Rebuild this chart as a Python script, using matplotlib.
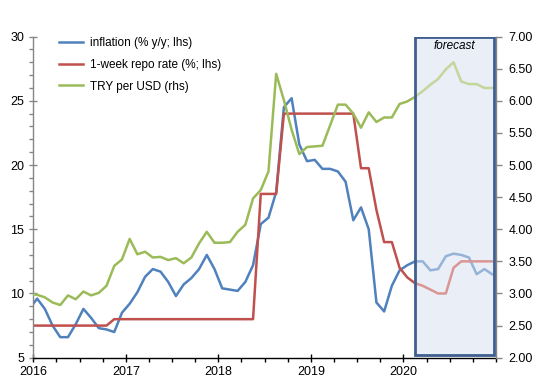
import numpy as np
import pandas as pd
import matplotlib
matplotlib.use("Agg")
import matplotlib.pyplot as plt
from matplotlib.patches import Rectangle
from matplotlib.ticker import MultipleLocator, FormatStrFormatter

plt.rcParams['font.family'] = ['Liberation Sans', 'DejaVu Sans']

# monthly data, Dec 2015 .. Dec 2020 (Dec 2015 only so the line runs into the left edge)
months = pd.period_range('2015-12', '2020-12', freq='M')

inflation = [8.8,
             9.6, 8.8, 7.5, 6.6, 6.6, 7.6, 8.8, 8.1, 7.3, 7.2, 7.0, 8.5,
             9.2, 10.1, 11.3, 11.9, 11.7, 10.9, 9.8, 10.7, 11.2, 11.9, 13.0, 11.9,
             10.4, 10.3, 10.2, 10.9, 12.2, 15.4, 15.9, 17.9, 24.5, 25.2, 21.6, 20.3,
             20.4, 19.7, 19.7, 19.5, 18.7, 15.7, 16.7, 15.0, 9.3, 8.6, 10.6, 11.8,
             12.2, 12.5, 12.5, 11.8, 11.9, 12.9, 13.1, 13.0, 12.8, 11.5, 11.9, 11.5]

repo_rate = [7.5,
             7.5, 7.5, 7.5, 7.5, 7.5, 7.5, 7.5, 7.5, 7.5, 7.5, 8.0, 8.0,
             8.0, 8.0, 8.0, 8.0, 8.0, 8.0, 8.0, 8.0, 8.0, 8.0, 8.0, 8.0,
             8.0, 8.0, 8.0, 8.0, 8.0, 17.75, 17.75, 17.75, 24.0, 24.0, 24.0, 24.0,
             24.0, 24.0, 24.0, 24.0, 24.0, 24.0, 19.75, 19.75, 16.5, 14.0, 14.0, 12.0,
             11.25, 10.8, 10.6, 10.3, 10.0, 10.0, 12.0, 12.5, 12.5, 12.5, 12.5, 12.5]

usd_try = [2.99,
           2.98, 2.94, 2.86, 2.82, 2.97, 2.91, 3.03, 2.97, 3.01, 3.12, 3.43, 3.53,
           3.85, 3.61, 3.65, 3.56, 3.57, 3.52, 3.55, 3.47, 3.56, 3.78, 3.96, 3.79,
           3.79, 3.80, 3.96, 4.07, 4.48, 4.61, 4.90, 6.42, 6.01, 5.55, 5.17, 5.28,
           5.29, 5.30, 5.62, 5.94, 5.94, 5.80, 5.58, 5.82, 5.67, 5.74, 5.74, 5.95,
           5.99, 6.06, 6.15, 6.25, 6.34, 6.49, 6.60, 6.30, 6.26, 6.26, 6.20, 6.20]

last_actual = '2020-02'
year_ticks = [2016, 2017, 2018, 2019, 2020]

BLUE, RED, GREEN = '#4F81BD', '#C0504D', '#9BBB59'
BLUE_F, RED_F, GREEN_F = '#95B3D7', '#D99694', '#C3D69B'
GREY = '#868686'


def draw_chart(output):
    # mid-month positions on a fractional-year axis
    x = np.array([m.year + (m.month - 0.5) / 12 for m in months])
    cut = list(months.astype(str)).index(last_actual)

    fig = plt.figure(figsize=(5.51, 3.86), dpi=100)
    ax = fig.add_axes([0.0604, 0.0733, 0.8397, 0.832])
    ax2 = ax.twinx()

    # forecast box (fill under the lines, border on top)
    box_x0 = x[cut]
    box_x1 = 2020.975
    ax.add_patch(Rectangle((box_x0, 5.2), box_x1 - box_x0, 24.75,
                           facecolor='#E9EEF7', edgecolor='none', zorder=0))
    ax2.add_patch(Rectangle((box_x0, 5.2), box_x1 - box_x0, 24.75,
                            facecolor='none', edgecolor='#3F5F8F', linewidth=2.0,
                            transform=ax.transData, zorder=5))
    ax2.text((box_x0 + box_x1) / 2, 29.3, 'forecast', transform=ax.transData,
             ha='center', va='center', fontsize=8.5, style='italic', zorder=6)

    inf = np.array(inflation)
    rep = np.array(repo_rate)
    fx = np.array(usd_try)

    ax.plot(x[:cut + 1], inf[:cut + 1], color=BLUE, lw=1.8, label='inflation (% y/y; lhs)')
    ax.plot(x[:cut + 1], rep[:cut + 1], color=RED, lw=1.8, label='1-week repo rate (%; lhs)')
    ax.plot(x[cut:], inf[cut:], color=BLUE_F, lw=1.8)
    ax.plot(x[cut:], rep[cut:], color=RED_F, lw=1.8)
    ax2.plot(x[:cut + 1], fx[:cut + 1], color=GREEN, lw=1.8, label='TRY per USD (rhs)')
    ax2.plot(x[cut:], fx[cut:], color=GREEN_F, lw=1.8)

    # axes
    ax.set_xlim(2016, 2021)
    ax.set_ylim(5, 30)
    ax2.set_ylim(2, 7)
    ax.set_xticks(year_ticks)
    ax.set_xticklabels([str(y) for y in year_ticks])
    ax.xaxis.set_minor_locator(MultipleLocator(0.25))
    ax.yaxis.set_major_locator(MultipleLocator(5))
    ax.yaxis.set_minor_locator(MultipleLocator(1))
    ax2.yaxis.set_major_locator(MultipleLocator(0.5))
    ax2.yaxis.set_major_formatter(FormatStrFormatter('%.2f'))

    ax.tick_params(axis='y', which='major', direction='inout', length=6, width=1,
                   color=GREY, labelsize=9, pad=3.6)
    ax.tick_params(axis='y', which='minor', direction='out', length=3, width=1, color=GREY)
    ax.tick_params(axis='x', which='major', direction='inout', length=6, width=1,
                   color='black', labelsize=9, pad=3.2)
    ax.tick_params(axis='x', which='minor', direction='out', length=3, width=1, color='black')
    ax2.tick_params(axis='y', which='major', direction='out', length=4, width=1,
                    color=GREY, labelsize=9, pad=5)

    for a in (ax, ax2):
        a.spines['top'].set_visible(False)
    ax.spines['right'].set_visible(False)
    ax.spines['left'].set_color(GREY)
    ax.spines['bottom'].set_color('black')
    ax2.spines['left'].set_visible(False)
    ax2.spines['bottom'].set_visible(False)
    ax2.spines['right'].set_color(GREY)
    for a in (ax, ax2):
        for s in a.spines.values():
            s.set_linewidth(1)

    # legend
    h1, l1 = ax.get_legend_handles_labels()
    h2, l2 = ax2.get_legend_handles_labels()
    ax2.legend(h1 + h2, l1 + l2, loc='upper left', bbox_to_anchor=(0.056, 0.998),
               frameon=False, fontsize=8.5, handlelength=2.05, handletextpad=0.6,
               labelspacing=0.82, borderpad=0, borderaxespad=0)

    fig.savefig(output, dpi=100)


if __name__ == "__main__":
    draw_chart("out.png")
